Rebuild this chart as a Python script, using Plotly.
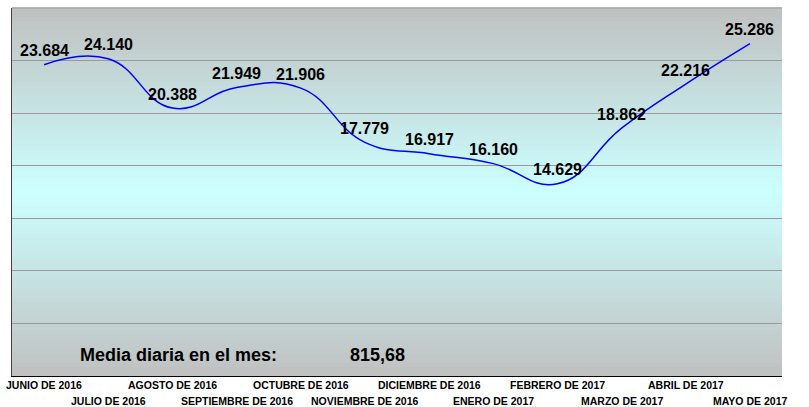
import plotly.graph_objects as go

months = ["JUNIO DE 2016", "JULIO DE 2016", "AGOSTO DE 2016", "SEPTIEMBRE DE 2016",
          "OCTUBRE DE 2016", "NOVIEMBRE DE 2016", "DICIEMBRE DE 2016", "ENERO DE 2017",
          "FEBRERO DE 2017", "MARZO DE 2017", "ABRIL DE 2017", "MAYO DE 2017"]
values = [23684, 24140, 20388, 21949, 21906, 17779, 16917, 16160, 14629, 18862, 22216, 25286]
value_labels = ["23.684", "24.140", "20.388", "21.949", "21.906", "17.779", "16.917",
                "16.160", "14.629", "18.862", "22.216", "25.286"]
media_text = "Media diaria en el mes:"
media_value = "815,68"

FONT = "Arial, 'Liberation Sans', sans-serif"

fig = go.Figure()
fig.add_trace(go.Scatter(
    x=list(range(len(months))), y=values, mode="lines",
    line=dict(color="#0000ff", width=1.5, shape="spline", smoothing=1.3),
    hoverinfo="skip", showlegend=False))

# gradient background: grey -> light cyan -> grey
shapes = []
N = 80
top = (192, 192, 192)
mid = (204, 255, 255)
for k in range(N):
    t0 = k / N
    t1 = (k + 1) / N
    tc = (t0 + t1) / 2
    f = 1 - abs(tc - 0.5) * 2
    c = tuple(round(top[j] + (mid[j] - top[j]) * f) for j in range(3))
    shapes.append(dict(type="rect", xref="x domain", yref="y domain",
                       x0=0, x1=1, y0=t0, y1=t1 + 0.002, layer="below",
                       line=dict(width=0), fillcolor="rgb(%d,%d,%d)" % c))

annotations = []
for i, (v, lab) in enumerate(zip(values, value_labels)):
    annotations.append(dict(x=i, y=v, xref="x", yref="y", text="<b>%s</b>" % lab,
                            showarrow=False, yshift=14, yanchor="middle",
                            font=dict(family=FONT, size=16, color="#000000")))
for i, m in enumerate(months):
    annotations.append(dict(x=i, y=-0.0245 if i % 2 == 0 else -0.068, xref="x", yref="paper",
                            text="<b>%s</b>" % m, showarrow=False, yanchor="middle",
                            font=dict(family=FONT, size=10.5, color="#000000")))
annotations.append(dict(x=2.1, y=0.057, xref="x", yref="paper", text="<b>%s</b>" % media_text,
                        showarrow=False, xanchor="center", yanchor="middle",
                        font=dict(family=FONT, size=18, color="#000000")))
annotations.append(dict(x=5.19, y=0.057, xref="x", yref="paper", text="<b>%s</b>" % media_value,
                        showarrow=False, xanchor="center", yanchor="middle",
                        font=dict(family=FONT, size=18, color="#000000")))

fig.update_layout(
    width=809, height=407,
    margin=dict(l=12, r=27, t=8, b=31),
    paper_bgcolor="white", plot_bgcolor="rgba(0,0,0,0)",
    shapes=shapes, annotations=annotations,
    xaxis=dict(range=[-0.5, 11.5], showgrid=False, zeroline=False, showticklabels=False,
               ticks="", showline=True, linecolor="#000000", linewidth=1, mirror=False,
               fixedrange=True),
    yaxis=dict(range=[0, 28000], dtick=4000, tick0=0, showgrid=True, gridcolor="#9a9a9a",
               gridwidth=1, zeroline=False, showticklabels=False, ticks="",
               showline=True, linecolor="#404040", linewidth=1, fixedrange=True),
)
fig.add_shape(type="line", xref="x domain", yref="y domain", x0=0, x1=1, y0=1, y1=1,
              line=dict(color="#9a9a9a", width=1), layer="above")

fig.write_html("out.html", config={"displayModeBar": False, "staticPlot": True},
               post_script="document.body.style.margin='0';document.body.style.overflow='hidden';")
